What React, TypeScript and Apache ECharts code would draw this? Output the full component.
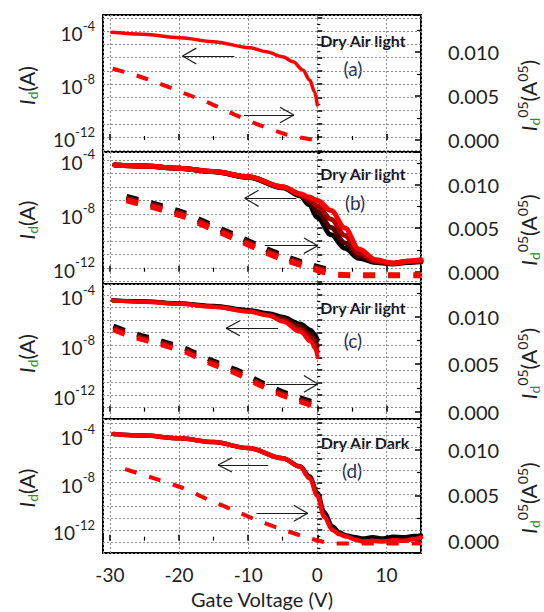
import React, { useEffect, useRef } from "react";
import * as echarts from "echarts";

const FONT = "Lato, 'Open Sans', 'DejaVu Sans', sans-serif";

// ---------- tick labels ----------
const xTickValues = [-30, -20, -10, 0, 10];
const logTickExponents = [-4, -8, -12];
const sqrtTickValues = [0, 0.005, 0.01];

// ---------- panel texts ----------
const panelConditions = ["Dry Air light", "Dry Air light", "Dry Air light", "Dry Air Dark"];
const panelLetters = ["(a)", "(b)", "(c)", "(d)"];

// ---------- (a) ----------  log10(Id / A) vs Vg (V)
const aVg = [-29.7, -25.2, -19.9, -15.1, -9.8, -7.4, -5.0, -3.5, -2.1, -1.1, -0.4, 0.0];
const aLogId = [-4.1, -4.25, -4.5, -4.8, -5.26, -5.56, -5.94, -6.32, -6.94, -7.7, -8.58, -9.58];
const aSqVg = [-29.6, -26.4, -22.8, -19.2, -15.6, -12.0, -8.35, -4.6, -0.8, 0.0];
const aSqId = [0.0081, 0.0074, 0.0064, 0.0053, 0.0042, 0.0029, 0.0017, 0.00065, 0.00005, 0.0];

// ---------- (b) ---------- successive sweeps, first (black) to last (red)
const bVg = [-29.3, -25, -20, -15, -10, -5, -2.5, -1.2, 0, 2, 4, 6, 8.5, 11, 13, 15];
const bLogId1 = [-4.37, -4.45, -4.62, -4.87, -5.28, -6.06, -6.65, -7.3, -8.25, -9.55, -10.55, -11.28, -11.6, -11.7, -11.6, -11.55];
const bLogId2 = [-4.37, -4.45, -4.62, -4.86, -5.26, -6.03, -6.6, -7.1, -7.8, -9.0, -10.15, -11.1, -11.55, -11.65, -11.55, -11.5];
const bLogId3 = [-4.37, -4.45, -4.61, -4.86, -5.25, -6.0, -6.55, -6.9, -7.4, -8.4, -9.6, -10.9, -11.5, -11.65, -11.5, -11.45];
const bLogId4 = [-4.37, -4.45, -4.61, -4.85, -5.24, -5.98, -6.5, -6.75, -7.0, -7.75, -9.05, -10.6, -11.4, -11.65, -11.5, -11.4];
const bSqVg = [-27.6, -23.25, -19.5, -16.0, -12.2, -8.55, -5.2, -1.6, 2.2, 6, 10, 15];
const bSqId1 = [0.0086, 0.0077, 0.0068, 0.0056, 0.0043, 0.003, 0.0019, 0.0009, 0.0001];
const bSqId2 = [0.0084, 0.0075, 0.0066, 0.0054, 0.0041, 0.0028, 0.0017, 0.00075, -0.0001];
const bSqId3 = [0.0082, 0.0073, 0.0064, 0.0052, 0.0039, 0.0026, 0.0015, 0.0006, -0.0003, -0.0004, -0.0004, -0.0004];

// ---------- (c) ----------
const cVg = [-29.6, -25, -20, -15, -10, -7, -5, -2.5, -0.9, -0.3, 0.05];
const cLogId1 = [-4.42, -4.5, -4.65, -4.85, -5.2, -5.45, -5.74, -6.28, -6.8, -7.15, -7.6];
const cLogId2 = [-4.43, -4.52, -4.68, -4.9, -5.26, -5.55, -5.88, -6.5, -7.12, -7.6, -8.1];
const cLogId3 = [-4.44, -4.54, -4.7, -4.93, -5.3, -5.6, -6.0, -6.72, -7.42, -7.95, -8.55];
const cLogId4 = [-4.45, -4.55, -4.72, -4.95, -5.33, -5.65, -6.14, -6.94, -7.74, -8.3, -8.98];
const cSqVg = [-29.5, -26.4, -22.8, -18.9, -15.6, -11.7, -8.1, -4.7, -0.6, 0.05];
const cSqId1 = [0.009, 0.0082, 0.0075, 0.0066, 0.0055, 0.0044, 0.0031, 0.002, 0.001, 0.0008];
const cSqId2 = [0.0088, 0.008, 0.0073, 0.0064, 0.0053, 0.0042, 0.0029, 0.0018, 0.0008, 0.0006];
const cSqId3 = [0.0086, 0.0078, 0.0071, 0.0062, 0.0051, 0.004, 0.0027, 0.0016, 0.0006, 0.0004];

// ---------- (d) ----------
const dVg = [-29.5, -25, -20, -15, -10, -5, -2.5, -1.1, 0, 1, 2.2, 3.2, 4.2, 5.5, 6.6, 8, 9.5, 11, 12.5, 14, 15];
const dLogId1 = [-3.92, -4.05, -4.28, -4.6, -5.1, -5.96, -6.64, -7.5, -8.85, -10.5, -11.7, -12.2, -12.45, -12.6, -12.7, -12.6, -12.7, -12.55, -12.6, -12.5, -12.45];
const dLogId2 = [-3.92, -4.05, -4.28, -4.6, -5.1, -5.96, -6.68, -7.64, -9.1, -10.87, -11.98, -12.35, -12.54, -12.8, -12.96, -12.9, -12.95, -12.85, -12.9, -12.75, -12.6];
const dSqVg = [-27.8, -23.7, -19.4, -16.0, -12.2, -8.55, -4.9, -1.3, 2.2, 6, 10, 15];
const dSqId = [0.0079, 0.0069, 0.0058, 0.0046, 0.0034, 0.0022, 0.0012, 0.0003, -0.0003, -0.0003, -0.0003, -0.0003];

// ---------- sweep-direction arrows (data coordinates) ----------
const leftArrows = [
  { from: [-12.0, -5.89], to: [-19.5, -5.89] },
  { from: [-3.05, -6.84], to: [-10.5, -6.84] },
  { from: [-5.7, -6.66], to: [-13.2, -6.66] },
  { from: [-7.1, -6.52], to: [-14.35, -6.52] },
];
const rightArrows = [
  { from: [-10.6, 0.00284], to: [-3.4, 0.00284] },
  { from: [-7.6, 0.00299], to: [0.07, 0.00299] },
  { from: [-7.4, 0.00292], to: [0.07, 0.00292] },
  { from: [-8.8, 0.00302], to: [-1.4, 0.00302] },
];
// arrow-head arm extent in data units (x in V; y in decades or A^0.5)
const ARM_DX = 2.0;
const ARM_DY_LOG = 0.6;
const ARM_DY_SQ = 0.00088;

// ---------- layout ----------
const PANELS = [
  { top: 15, height: 137, logMin: -13.13, logMax: -2.79, sqMin: -0.00136, sqMax: 0.0142 },
  { top: 152, height: 132, logMin: -13.19, logMax: -3.41, sqMin: -0.00141, sqMax: 0.01376 },
  { top: 284, height: 135, logMin: -13.92, logMax: -3.12, sqMin: -0.00077, sqMax: 0.01344 },
  { top: 419, height: 134, logMin: -13.92, logMax: -2.66, sqMin: -0.00136, sqMax: 0.01343 },
];
const GRID_LEFT = 103;
const GRID_WIDTH = 318;
const SWEEP4 = ["#000000", "#520000", "#a80000", "#ff0000"];
const SWEEP3 = ["#000000", "#8a0000", "#ff0000"];
const SWEEP2 = ["#000000", "#ff0000"];
const DASH = [12, 13];

function pairs(xs: number[], ys: number[]) {
  return ys.map((y, i) => [xs[i], y]);
}

function solid(xs: number[], ys: number[], panel: number, color: string, width: number) {
  return {
    type: "line",
    xAxisIndex: panel,
    yAxisIndex: panel * 2,
    data: pairs(xs, ys),
    symbol: "none",
    smooth: 0.35,
    smoothMonotone: "x",
    silent: true,
    lineStyle: { color, width, cap: "round" },
    z: 3,
  };
}

function dashed(xs: number[], ys: number[], panel: number, color: string, width: number) {
  return {
    type: "line",
    xAxisIndex: panel,
    yAxisIndex: panel * 2 + 1,
    data: pairs(xs, ys),
    symbol: "none",
    smooth: 0.2,
    silent: true,
    lineStyle: { color, width, type: DASH, cap: "butt" },
    z: 3,
  };
}

function arrow(a: { from: number[]; to: number[] }, armDy: number) {
  const dir = a.to[0] < a.from[0] ? 1 : -1; // arms point back toward the tail
  const tip = a.to;
  const arm1 = [tip[0] + dir * ARM_DX, tip[1] + armDy];
  const arm2 = [tip[0] + dir * ARM_DX, tip[1] - armDy];
  return {
    silent: true,
    animation: false,
    symbol: ["none", "none"],
    label: { show: false },
    emphasis: { disabled: true },
    lineStyle: { color: "#1a1a1a", width: 1.2, type: "solid" },
    data: [
      [{ coord: a.from }, { coord: tip }],
      [{ coord: tip }, { coord: arm1 }],
      [{ coord: tip }, { coord: arm2 }],
    ],
  };
}

function isMultiple(v: number, step: number) {
  const r = v / step;
  return Math.abs(r - Math.round(r)) < 1e-6;
}

export default function App() {
  const ref = useRef<HTMLDivElement>(null);
  useEffect(() => {
    document.body.style.margin = "0";
    const chart = echarts.init(ref.current!, undefined, { renderer: "svg" });

    const series: any[] = [];
    // (a)
    const sa: any = solid(aVg, aLogId, 0, "#ff0000", 3.5);
    sa.markLine = arrow(leftArrows[0], ARM_DY_LOG);
    series.push(sa);
    const da: any = dashed(aSqVg, aSqId, 0, "#ff0000", 4);
    da.markLine = arrow(rightArrows[0], ARM_DY_SQ);
    series.push(da);
    // (b)
    [bLogId1, bLogId2, bLogId3, bLogId4].forEach((ys, k) => {
      const s: any = solid(bVg, ys, 1, SWEEP4[k], 5);
      if (k === 3) s.markLine = arrow(leftArrows[1], ARM_DY_LOG);
      series.push(s);
    });
    [bSqId1, bSqId2, bSqId3].forEach((ys, k) => {
      const s: any = dashed(bSqVg, ys, 1, SWEEP3[k], 6);
      if (k === 2) s.markLine = arrow(rightArrows[1], ARM_DY_SQ);
      series.push(s);
    });
    // (c)
    [cLogId1, cLogId2, cLogId3, cLogId4].forEach((ys, k) => {
      const s: any = solid(cVg, ys, 2, SWEEP4[k], 4);
      if (k === 3) s.markLine = arrow(leftArrows[2], ARM_DY_LOG);
      series.push(s);
    });
    [cSqId1, cSqId2, cSqId3].forEach((ys, k) => {
      const s: any = dashed(cSqVg, ys, 2, SWEEP3[k], 5);
      if (k === 2) s.markLine = arrow(rightArrows[2], ARM_DY_SQ);
      series.push(s);
    });
    // (d)
    [dLogId1, dLogId2].forEach((ys, k) => {
      const s: any = solid(dVg, ys, 3, SWEEP2[k], 4.5);
      if (k === 1) s.markLine = arrow(leftArrows[3], ARM_DY_LOG);
      series.push(s);
    });
    const dd: any = dashed(dSqVg, dSqId, 3, "#ff0000", 4);
    dd.markLine = arrow(rightArrows[3], ARM_DY_SQ);
    series.push(dd);

    const labelColor = "#1e1e1e";
    const xAxis = PANELS.map((p, i) => ({
      type: "value",
      gridIndex: i,
      min: -31,
      max: 15,
      minInterval: 10,
      maxInterval: 10,
      axisLine: { show: false },
      axisTick: { show: true, inside: true, length: 6, lineStyle: { color: "#000", width: 1.5 } },
      minorTick: { show: true, splitNumber: 2, length: 4, lineStyle: { color: "#000", width: 1.2 } },
      splitLine: { show: true, lineStyle: { color: "#8a8a8a", type: [2, 2], width: 1 } },
      axisLabel: {
        show: i === 3,
        margin: 12,
        fontSize: 19,
        fontFamily: FONT,
        color: labelColor,
        formatter: (v: number) =>
          isMultiple(v, 1) && xTickValues.includes(Math.round(v)) ? String(Math.round(v)) : "",
      },
      name: i === 3 ? "Gate Voltage (V)" : "",
      nameLocation: "middle",
      nameGap: 36,
      nameTextStyle: { fontSize: 20, fontFamily: FONT, color: labelColor },
    }));

    const yAxis: any[] = [];
    PANELS.forEach((p, i) => {
      yAxis.push({
        type: "value",
        gridIndex: i,
        position: "left",
        min: p.logMin,
        max: p.logMax,
        minInterval: 1,
        maxInterval: 1,
        axisLine: { show: false },
        axisTick: { show: true, inside: true, length: 5, lineStyle: { color: "#000", width: 1.5 } },
        minorTick: { show: true, splitNumber: 2, length: 3, lineStyle: { color: "#000", width: 1.2 } },
        splitLine: { show: true, lineStyle: { color: "#8a8a8a", type: [2, 2], width: 1 } },
        axisLabel: {
          margin: 8,
          color: labelColor,
          fontFamily: FONT,
          formatter: (v: number) => {
            if (!isMultiple(v, 1)) return "";
            const e = Math.round(v);
            return logTickExponents.includes(e) ? `{b|10}{s|${e}}` : "";
          },
          rich: {
            b: { fontSize: 19, fontFamily: FONT, color: labelColor, lineHeight: 24, verticalAlign: "bottom" },
            s: { fontSize: 13, fontFamily: FONT, color: labelColor, lineHeight: 14, verticalAlign: "top" },
          },
        },
      });
      yAxis.push({
        type: "value",
        gridIndex: i,
        position: "right",
        min: p.sqMin,
        max: p.sqMax,
        minInterval: 0.005,
        maxInterval: 0.005,
        axisLine: { show: false },
        axisTick: { show: true, inside: true, length: 6, lineStyle: { color: "#000", width: 1.5 } },
        minorTick: { show: true, splitNumber: 2, length: 4, lineStyle: { color: "#000", width: 1.2 } },
        splitLine: { show: false },
        axisLabel: {
          margin: 27,
          fontSize: 20,
          fontFamily: FONT,
          color: labelColor,
          formatter: (v: number) => {
            if (!isMultiple(v, 0.005)) return "";
            const t = sqrtTickValues.find((s) => Math.abs(s - v) < 1e-9);
            return t === undefined ? "" : t.toFixed(3);
          },
        },
      });
    });

    const graphic: any[] = [];
    const titleRich = {
      i: { fontSize: 21, fontStyle: "italic", fontFamily: FONT, fill: labelColor, lineHeight: 26, verticalAlign: "middle" },
      d: { fontSize: 14, fontFamily: FONT, fill: "#2f8a2f", lineHeight: 14, verticalAlign: "bottom" },
      p: { fontSize: 21, fontFamily: FONT, fill: labelColor, lineHeight: 26, verticalAlign: "middle" },
      u: { fontSize: 14, fontFamily: FONT, fill: labelColor, lineHeight: 14, verticalAlign: "top" },
    };
    PANELS.forEach((p) => {
      const cy = p.top + p.height / 2;
      graphic.push({
        type: "text",
        x: 26,
        y: cy + 2,
        rotation: Math.PI / 2,
        silent: true,
        style: { text: "{i|I}{d|d}{p|(A)}", rich: titleRich, align: "center", verticalAlign: "middle" },
      });
      graphic.push({
        type: "text",
        x: 528,
        y: cy + 12,
        rotation: Math.PI / 2,
        silent: true,
        style: { text: "{i|I}{d|d}{u|05}{p|(A}{u|05}{p|)}", rich: titleRich, align: "center", verticalAlign: "middle" },
      });
    });
    const condPos = [
      [363, 40, 353, 68],
      [363, 173, 355, 202],
      [363, 307, 353, 340],
      [365, 442, 352, 470],
    ];
    condPos.forEach((c, i) => {
      graphic.push({
        type: "text",
        x: c[0],
        y: c[1],
        silent: true,
        style: {
          text: panelConditions[i],
          fontSize: 16,
          fontWeight: "bold",
          fontFamily: FONT,
          fill: "#161622",
          align: "center",
          verticalAlign: "middle",
        },
      });
      graphic.push({
        type: "text",
        x: c[2],
        y: c[3],
        silent: true,
        style: {
          text: panelLetters[i],
          fontSize: 19,
          fontFamily: FONT,
          fill: "#1f2d5c",
          align: "center",
          verticalAlign: "middle",
        },
      });
    });

    chart.setOption({
      animation: false,
      backgroundColor: "#ffffff",
      textStyle: { fontFamily: FONT },
      grid: PANELS.map((p) => ({
        left: GRID_LEFT,
        width: GRID_WIDTH,
        top: p.top,
        height: p.height,
        show: true,
        borderColor: "#000",
        borderWidth: 2,
        backgroundColor: "transparent",
      })),
      xAxis,
      yAxis,
      series,
      graphic,
    });
    return () => chart.dispose();
  }, []);
  return (
    <div
      ref={ref}
      style={{ position: "fixed", left: 0, top: 0, width: 544, height: 612, background: "#fff" }}
    />
  );
}
